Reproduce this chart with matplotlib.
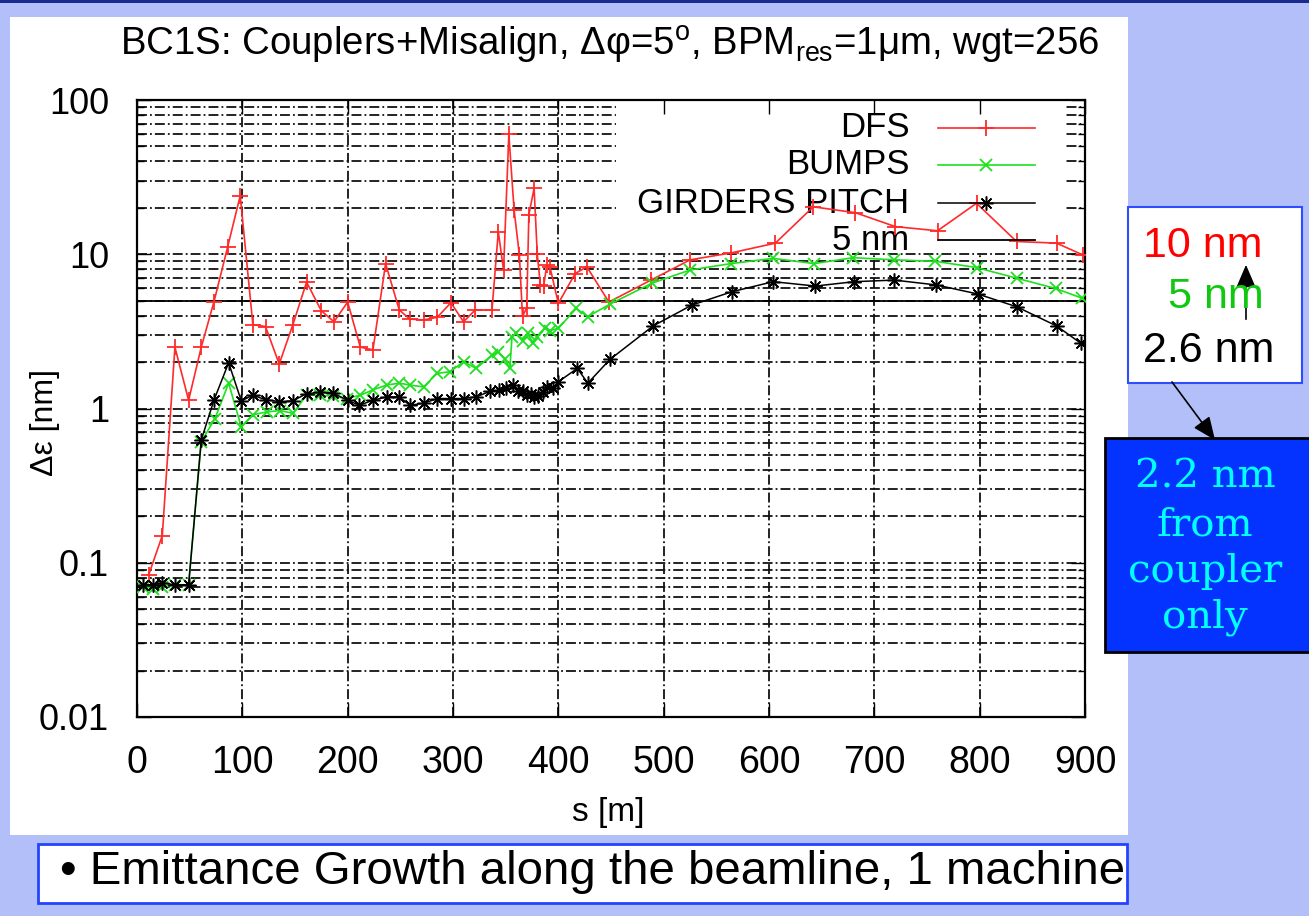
import matplotlib
matplotlib.use("Agg")
import matplotlib.pyplot as plt
from matplotlib import font_manager
from matplotlib.patches import Rectangle, FancyArrowPatch
from matplotlib.lines import Line2D
from matplotlib.ticker import LogLocator, NullFormatter

W, H = 1309, 916

# --- data ---
s_dfs = [11, 24, 36, 49, 61, 73, 86, 98, 110, 122, 135, 148, 161, 175, 187, 200, 212, 224, 236, 249,
         259, 272, 285, 298, 310, 321, 337, 343, 348, 353, 358, 363, 366, 370, 372, 377, 380, 383, 386, 389,
         392, 400, 416, 427, 448, 488, 525, 564, 606, 642, 682, 720, 760, 797, 835, 873, 898]
dfs = [0.083, 0.15, 2.5, 1.13, 2.5, 4.9, 11.1, 24, 3.5, 3.4, 1.94, 3.5, 6.6, 4.3, 3.65, 4.9, 2.5, 2.4, 8.7, 4.35,
       3.8, 3.75, 3.9, 4.85, 3.65, 4.35, 4.35, 14.0, 7.9, 60, 19.4, 9.9, 3.95, 4.5, 18.0, 26.8, 10.0, 6.3, 6.2, 8.5,
       8.3, 4.8, 7.5, 8.3, 4.9, 6.8, 9.2, 10.2, 11.8, 20.3, 18.6, 15.1, 14.2, 21.4, 12.1, 11.8, 9.9]

s_bumps = [6, 15, 24, 36, 49, 61, 74, 87, 99, 110, 123, 136, 148, 161, 174, 186, 199, 212, 224, 237,
           249, 259, 272, 285, 297, 310, 322, 337, 343, 349, 354, 356, 360, 366, 371, 376, 380, 387, 392, 400,
           417, 428, 449, 489, 525, 564, 604, 643, 680, 719, 758, 797, 835, 872, 897]
bumps = [0.07, 0.068, 0.07, 0.072, 0.072, 0.61, 0.86, 1.46, 0.76, 0.91, 0.95, 0.97, 0.93, 1.22, 1.22, 1.2, 1.16, 1.22, 1.32, 1.42,
         1.46, 1.42, 1.38, 1.69, 1.73, 2.01, 1.82, 2.22, 2.33, 2.1, 1.82, 2.92, 3.07, 2.75, 3.07, 2.65, 2.9, 3.31, 3.2, 3.31,
         4.45, 3.94, 4.75, 6.5, 7.9, 8.7, 9.4, 8.7, 9.5, 9.2, 9.0, 8.2, 7.0, 6.0, 5.2]

s_girders = [6, 15, 24, 36, 49, 61, 73, 87, 99, 110, 122, 135, 148, 161, 174, 186, 200, 211, 224, 237,
             249, 259, 272, 285, 298, 310, 322, 335, 344, 350, 357, 362, 366, 370, 374, 377, 381, 385, 389, 395,
             400, 418, 428, 449, 490, 527, 565, 604, 644, 681, 719, 759, 798, 835, 873, 896]
girders = [0.072, 0.072, 0.074, 0.072, 0.072, 0.625, 1.13, 1.98, 1.12, 1.22, 1.14, 1.11, 1.12, 1.25, 1.27, 1.26, 1.13, 1.05, 1.13, 1.19,
           1.19, 1.05, 1.08, 1.16, 1.16, 1.16, 1.19, 1.29, 1.31, 1.35, 1.42, 1.3, 1.29, 1.22, 1.25, 1.19, 1.2, 1.28, 1.38, 1.35,
           1.49, 1.82, 1.46, 2.08, 3.43, 4.69, 5.72, 6.64, 6.22, 6.64, 6.8, 6.32, 5.53, 4.57, 3.43, 2.65]

target = 5.0
legend_names = ["DFS", "BUMPS", "GIRDERS PITCH", "5 nm"]
x_ticks = [0, 100, 200, 300, 400, 500, 600, 700, 800, 900]
y_ticks = [0.01, 0.1, 1, 10, 100]
y_tick_labels = ["0.01", "0.1", "1", "10", "100"]
side_values = ["10 nm", "5 nm", "2.6 nm"]
side_colors = ["#ff0000", "#10c810", "black"]
coupler_note = ["2.2 nm", "from", "coupler", "only"]

installed = {f.name for f in font_manager.fontManager.ttflist}
sans = "Liberation Sans"
narrow = "Liberation Sans Narrow" if "Liberation Sans Narrow" in installed else sans

plt.rcParams["font.family"] = [sans, "DejaVu Sans"]
plt.rcParams["mathtext.fontset"] = "custom"
plt.rcParams["mathtext.rm"] = sans
plt.rcParams["mathtext.it"] = sans + ":italic"


def fx(px):
    return px / W


def fy(py):
    return 1 - py / H


fig = plt.figure(figsize=(W / 100, H / 100), dpi=100, facecolor="#b3bff9")
fig.add_artist(Rectangle((0, fy(3)), 1, 3 / H, transform=fig.transFigure, fc="#1a2b8f", ec="none"))
fig.add_artist(Rectangle((fx(10), fy(835)), 1118 / W, 818 / H, transform=fig.transFigure,
                         fc="white", ec="none", zorder=-1))

ax = fig.add_axes([fx(137), fy(717), 948 / W, 617 / H])
ax.set_yscale("log")
ax.set_xlim(0, 900)
ax.set_ylim(0.01, 100)

# gnuplot style dash-dot grid
grid_style = dict(color="#111111", lw=1.3, dashes=(5.5, 1.7, 1.0, 1.7), zorder=0.8)
for xv in x_ticks[1:-1]:
    ax.axvline(xv, **grid_style)
for dec in [0.01, 0.1, 1, 10]:
    for m in range(1, 10):
        if dec * m > 0.01:
            ax.axhline(dec * m, **grid_style)

# white key area hides the grid
ax.add_patch(Rectangle((0.505, 0.752), 0.473, 0.248, transform=ax.transAxes,
                       fc="white", ec="none", zorder=1))

styles = [
    dict(color="#ff2a2a", lw=1.2, marker="+", ms=12, mew=1.3),
    dict(color="#1ee01e", lw=1.2, marker="x", ms=8, mew=1.3),
    dict(color="black", lw=1.1, marker=(8, 2, 0), ms=10, mew=1.1),
    dict(color="black", lw=1.3, marker=None),
]
ax.plot(s_dfs, dfs, zorder=3, **styles[0])
ax.plot(s_bumps, bumps, zorder=3, **styles[1])
ax.plot(s_girders, girders, zorder=3, **styles[2])
ax.axhline(target, zorder=2.9, color="black", lw=1.3)

# key
leg_y = [0.955, 0.895, 0.833, 0.773]
for name, yy, st in zip(legend_names, leg_y, styles):
    ax.text(0.815, yy, name, transform=ax.transAxes, ha="right", va="center",
            fontsize=25, zorder=2)
    ln = Line2D([0.845, 0.896, 0.947], [yy, yy, yy], transform=ax.transAxes,
                markevery=[1], zorder=3, **st)
    ax.add_line(ln)

ax.set_xticks(x_ticks, [str(v) for v in x_ticks], fontfamily=narrow, fontsize=27)
ax.set_yticks(y_ticks, y_tick_labels, fontsize=26)
ax.yaxis.set_minor_locator(LogLocator(base=10, subs=range(2, 10)))
ax.yaxis.set_minor_formatter(NullFormatter())
ax.tick_params(which="both", direction="in", top=True, right=True, width=1.0)
ax.tick_params(which="major", length=10)
ax.tick_params(which="minor", length=5)
ax.tick_params(axis="x", pad=20)
ax.tick_params(axis="y", pad=20)
for sp in ax.spines.values():
    sp.set_linewidth(1.6)

fig.text(fx(608), fy(812), "s [m]", ha="center", va="center", fontsize=24, fontfamily=narrow)
fig.text(fx(45), fy(422), "Δε [nm]", ha="center", va="center", rotation=90, fontsize=23)
title = fig.text(fx(610), fy(45), r"BC1S: Couplers+Misalign, Δφ=5$^{\mathrm{o}}$, BPM$_{\mathrm{res}}$=1μm, wgt=256",
                 ha="center", va="center", fontsize=26, fontfamily=narrow)

# caption
fig.add_artist(Rectangle((fx(38), fy(903)), 1089 / W, 59 / H, transform=fig.transFigure,
                         fc="white", ec="#2244ff", lw=2))
caption = fig.text(fx(60), fy(872), "• Emittance Growth along the beamline, 1 machine",
                   ha="left", va="center", fontsize=30, fontfamily=narrow)

# side notes
fig.add_artist(Rectangle((fx(1128), fy(383)), 174 / W, 176 / H, transform=fig.transFigure,
                         fc="white", ec="#2d4dff", lw=1.5))
for txt, col, xc, base in zip(side_values, side_colors, [1203, 1216, 1209], [257, 308, 362]):
    fig.text(fx(xc), fy(base), txt, color=col, ha="center", va="baseline", fontsize=31)
fig.add_artist(FancyArrowPatch((fx(1246), fy(322)), (fx(1246), fy(262)), transform=fig.transFigure,
                               arrowstyle="-|>,head_length=0.7,head_width=0.3", mutation_scale=20,
                               color="black", lw=1.2))
fig.add_artist(FancyArrowPatch((fx(1172), fy(382)), (fx(1215), fy(440)), transform=fig.transFigure,
                               arrowstyle="-|>,head_length=0.7,head_width=0.3", mutation_scale=20,
                               color="black", lw=1.2, shrinkA=0, shrinkB=0))
fig.add_artist(Rectangle((fx(1105), fy(652)), 210 / W, 214 / H, transform=fig.transFigure,
                         fc="#0433ff", ec="black", lw=2))
for txt, base in zip(coupler_note, [488, 535, 582, 628]):
    fig.text(fx(1205), fy(base), txt, color="#00ffff", ha="center", va="baseline",
             fontsize=29, fontfamily="DejaVu Serif")


def fit_width(t, target_px):
    r = fig.canvas.get_renderer()
    w = t.get_window_extent(r).width
    t.set_fontsize(t.get_fontsize() * target_px / w)


fit_width(title, 980)
fit_width(caption, 1062)

fig.savefig("out.png", dpi=100, facecolor=fig.get_facecolor())
